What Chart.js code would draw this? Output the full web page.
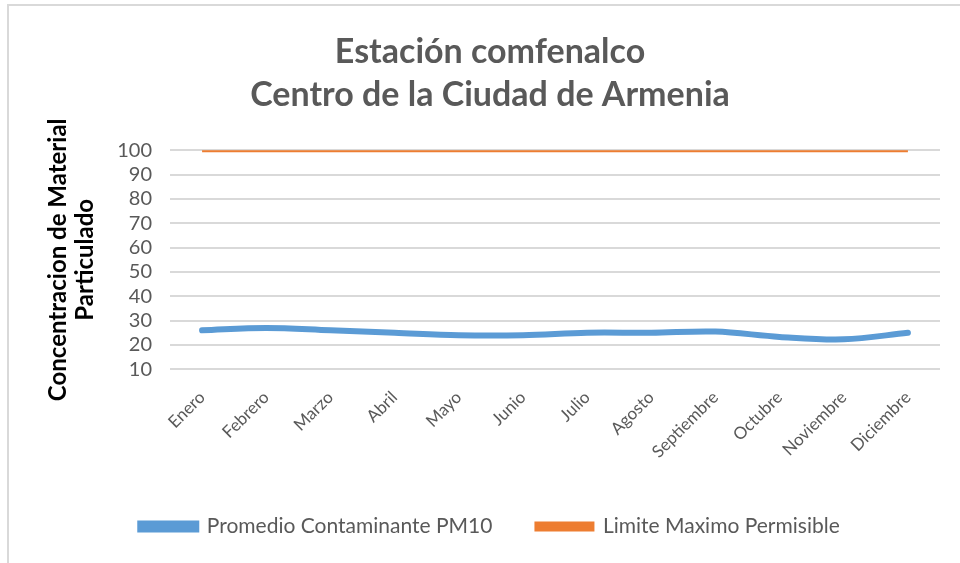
<!DOCTYPE html>
<html>
<head>
<meta charset="utf-8">
<script src="https://cdn.jsdelivr.net/npm/chart.js@4"></script>
<style>
  body { margin: 0; background: #fff; }
  #wrap { position: relative; width: 960px; height: 563px; }
  #frame {
    position: absolute; left: 7px; top: 4px; right: 0; bottom: 0;
    border-left: 2px solid #d9d9d9; border-top: 2px solid #d9d9d9;
    pointer-events: none;
  }
</style>
</head>
<body>
<div id="wrap">
  <canvas id="chart" width="960" height="563"></canvas>
  <div id="frame"></div>
</div>
<script>
const months = ["Enero", "Febrero", "Marzo", "Abril", "Mayo", "Junio", "Julio",
  "Agosto", "Septiembre", "Octubre", "Noviembre", "Diciembre"];
const promedioPM10 = [26, 27, 26, 25, 24, 24, 25, 25, 25.5, 23.3, 22.3, 25];
const limiteMaximo = [100, 100, 100, 100, 100, 100, 100, 100, 100, 100, 100, 100];
const titleLines = ["Estación comfenalco", "Centro de la Ciudad de Armenia"];
const yTitleLines = ["Concentracion de Material", "Particulado"];

const FONT = "Lato, 'Open Sans', sans-serif";
const GRAY = "#595959";

const ctx = document.getElementById("chart").getContext("2d");
new Chart(ctx, {
  type: "line",
  data: {
    labels: months,
    datasets: [
      {
        label: "Promedio Contaminante PM10",
        data: promedioPM10,
        borderColor: "#5b9bd5",
        backgroundColor: "#5b9bd5",
        borderWidth: 6,
        tension: 0.35,
        pointRadius: 0,
        borderCapStyle: "round",
      },
      {
        label: "Limite Maximo Permisible",
        data: limiteMaximo,
        borderColor: "#ed7d31",
        backgroundColor: "#ed7d31",
        borderWidth: 4,
        pointRadius: 0,
      },
    ],
  },
  options: {
    responsive: false,
    animation: false,
    layout: { padding: { top: 30, right: 20, left: 40, bottom: 16 } },
    plugins: {
      title: {
        display: true,
        text: titleLines,
        color: GRAY,
        font: { family: FONT, size: 34, weight: "bold", lineHeight: 1.27 },
        padding: { top: 0, bottom: 34 },
      },
      legend: {
        position: "bottom",
        labels: {
          color: GRAY,
          font: { family: FONT, size: 21 },
          boxWidth: 56,
          boxHeight: 6,
          padding: 44,
        },
      },
      tooltip: { enabled: false },
    },
    scales: {
      x: {
        offset: true,
        grid: { display: false },
        border: { display: false },
        ticks: {
          autoSkip: false,
          color: GRAY,
          font: { family: FONT, size: 17 },
          maxRotation: 45,
          minRotation: 45,
          padding: 10,
        },
      },
      y: {
        min: 10,
        max: 100,
        grid: { color: "#d9d9d9", lineWidth: 2, drawTicks: false },
        border: { display: false },
        ticks: {
          autoSkip: false,
          stepSize: 10,
          color: GRAY,
          font: { family: FONT, size: 20 },
          padding: 18,
        },
        title: {
          display: true,
          text: yTitleLines,
          color: "#000",
          font: { family: FONT, size: 24, weight: "bold", lineHeight: 1.15 },
          padding: { bottom: 0 },
        },
      },
    },
  },
});
</script>
</body>
</html>
